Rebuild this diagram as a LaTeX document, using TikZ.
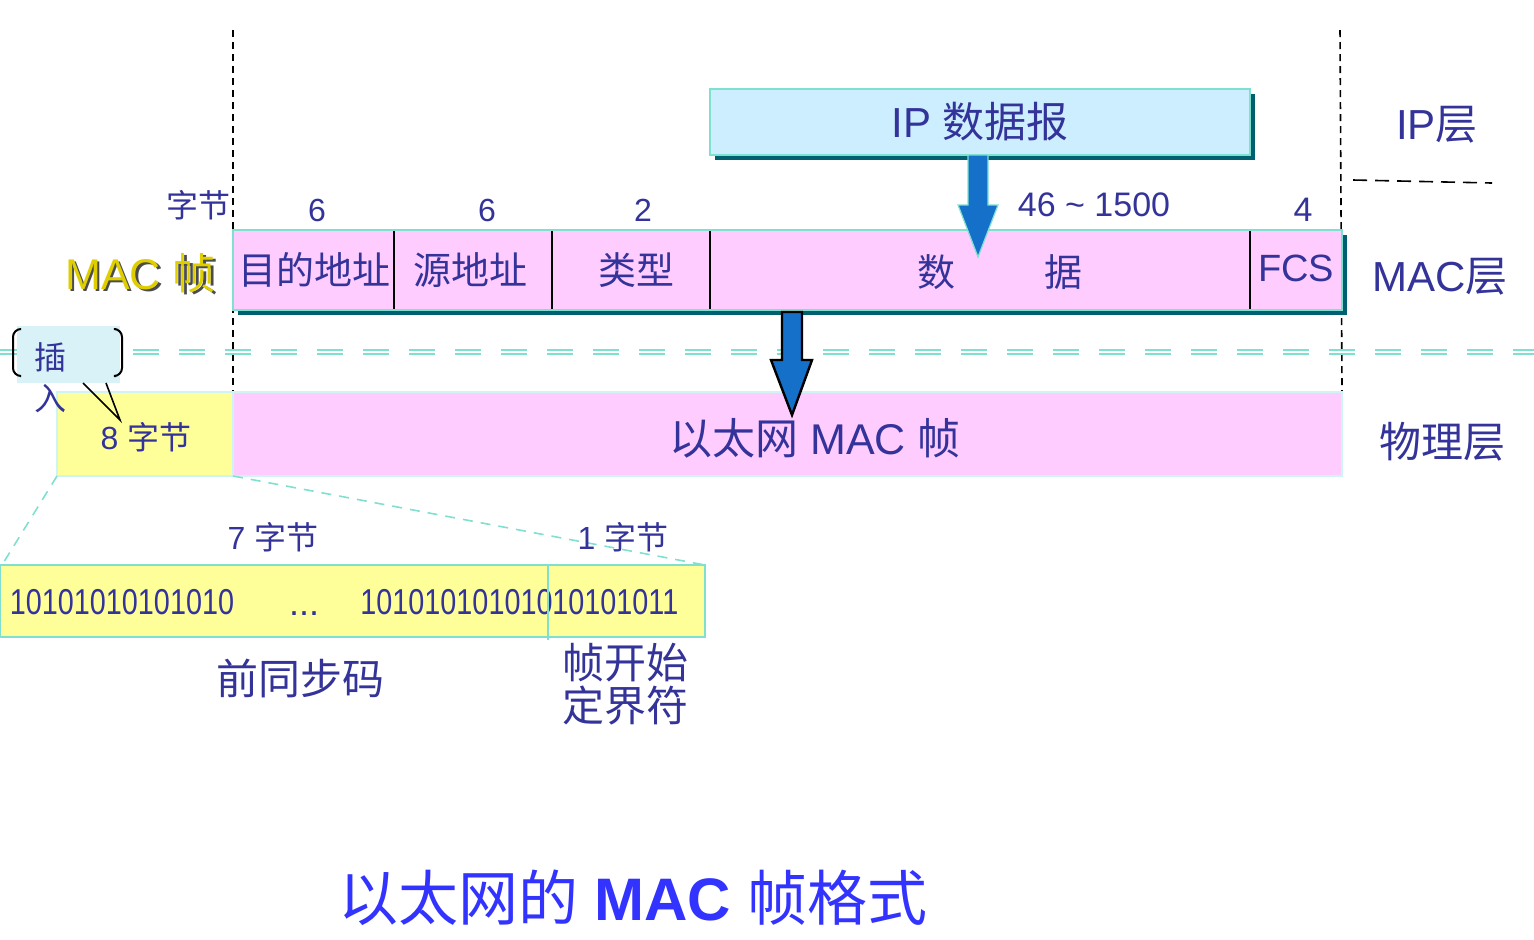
\documentclass[tikz,border=0pt]{standalone}
\usepackage{fontspec}
\setmainfont{Liberation Sans}
\newfontfamily\cjk{Noto Sans CJK SC}
\newfontfamily\narrowdigits[FakeStretch=0.8]{Liberation Sans}
\usetikzlibrary{shadows}
\definecolor{txtblue}{HTML}{333399}
\definecolor{titleblue}{HTML}{3333FF}
\definecolor{aqua}{HTML}{80E0D0}
\definecolor{paleaqua}{HTML}{D0F3F3}
\definecolor{ipfill}{HTML}{CCEEFF}
\definecolor{pinkfill}{HTML}{FFCCFF}
\definecolor{yellowfill}{HTML}{FFFF99}
\definecolor{shadowteal}{HTML}{006070}
\definecolor{arrowblue}{HTML}{1570C9}
\definecolor{calloutfill}{HTML}{D9F2F7}
\definecolor{macyellow}{HTML}{E0CF00}
\newcommand{\fs}[1]{\fontsize{#1}{#1}\selectfont}
\tikzset{
  lbl/.style={text=txtblue, inner sep=0pt},
  layerbox/.style={draw=aqua, line width=1pt, inner sep=0pt, outer sep=0pt},
  shadowed/.style={drop shadow={shadow xshift=2.5pt, shadow yshift=-2.5pt,
      fill=shadowteal, opacity=1}},
  physbox/.style={draw=paleaqua, line width=1pt, inner sep=0pt, outer sep=0pt},
  vline/.style={black, line width=0.8pt, dash pattern=on 3.5pt off 2.5pt},
  sepline/.style={aqua, line width=1pt, dash pattern=on 13pt off 10pt},
  zoomline/.style={aqua, line width=0.8pt, dash pattern=on 5pt off 4pt},
  blockarrow/.style={fill=arrowblue, line join=miter}
}
\begin{document}
\begin{tikzpicture}[x=0.5pt,y=-0.5pt]
  \useasboundingbox (0,0) rectangle (1534,939);
  % layer borders
  \draw[vline] (233,30) -- (233,392);
  \draw[vline] (1340,30) -- (1342,392);
  \draw[black, line width=0.8pt, dash pattern=on 7pt off 4pt] (1353,180) -- (1492,183);
  \draw[sepline] (-5,349.5) -- (1534,349.5);
  \draw[sepline] (-5,353.5) -- (1534,353.5);

  % IP layer
  \node[layerbox, shadowed, fill=ipfill, minimum width=270pt, minimum height=33pt,
    lbl, font=\fs{21}] (ip) at (980,122) {IP {\cjk 数据报}};

  % MAC layer
  \node[layerbox, shadowed, fill=pinkfill, minimum width=554.5pt,
    minimum height=40pt] (macframe) at (787.5,270) {};
  \foreach \x in {394,552,710,1250}
    \draw[black, line width=0.8pt] (\x,231) -- (\x,309);
  \node[lbl, font=\fs{16}\cjk, anchor=east] (unit) at (231,205) {字节};
  \node[lbl, font=\fs{16}] (len1) at (317,210) {6};
  \node[lbl, font=\fs{16}] (len2) at (487,210) {6};
  \node[lbl, font=\fs{16}] (len3) at (643,210) {2};
  \node[lbl, font=\fs{17}] (len4) at (1094,205) {46 \textasciitilde{} 1500};
  \node[lbl, font=\fs{17}] (len5) at (1303,210) {4};
  \node[lbl, font=\fs{19}\cjk] (dst) at (314,270) {目的地址};
  \node[lbl, font=\fs{19}\cjk] (src) at (470,270) {源地址};
  \node[lbl, font=\fs{19}\cjk] (typ) at (636,270) {类型};
  \node[lbl, font=\fs{19}\cjk] (data1) at (936,272) {数};
  \node[lbl, font=\fs{19}\cjk] (data2) at (1063,272) {据};
  \node[lbl, font=\fs{19}] (fcs) at (1296,268) {FCS};
  \node[inner sep=0pt, text=black!70, font=\fs{21.5}] (macshadow) at (143,275.5)
    {MAC {\cjk 帧}};
  \node[inner sep=0pt, text=macyellow, font=\fs{21.5}] (maclabel) at (140.5,273)
    {MAC {\cjk 帧}};
  \draw[blockarrow, draw=aqua, line width=0.6pt] (968,155) -- ++(20,0) -- ++(0,50)
    -- ++(10,0) -- (978,257) -- ++(-20,-52) -- ++(10,0) -- cycle;

  % physical layer
  \node[physbox, fill=yellowfill, minimum width=88pt, minimum height=42pt,
    lbl, font=\fs{16}] (pre8) at (145,434) {};
  \node[lbl, font=\fs{16}] (pre8txt) at (146,437) {8 {\cjk 字节}};
  \node[physbox, fill=pinkfill, minimum width=554.5pt, minimum height=42pt]
    (ethframe) at (787.5,434) {};
  \node[lbl, font=\fs{21.5}] (ethtxt) at (815,438) {{\cjk 以太网} MAC {\cjk 帧}};
  \draw[blockarrow, draw=black, line width=1.2pt] (782,312) -- ++(20,0) -- ++(0,48)
    -- ++(10,0) -- (792,415) -- ++(-21,-55) -- ++(11,0) -- cycle;

  % callout
  \fill[calloutfill] (17,326) rectangle (120,383);
  \draw[line width=1pt, rounded corners=4pt] (20,329) -- (13,329) -- (13,376) -- (20,376);
  \draw[line width=1pt, rounded corners=4pt] (116,329) -- (122,329) -- (122,376) -- (116,376);
  \draw[line width=0.8pt] (83,383) -- (120,420) -- (106,383);
  \node[lbl, font=\fs{16}\cjk] (ins1) at (50,357) {插};
  \node[lbl, font=\fs{16}\cjk] (ins2) at (50,399) {入};

  % preamble detail
  \draw[zoomline] (pre8.south west) -- (2,565);
  \draw[zoomline] (pre8.south east) -- (705,565);
  \node[layerbox, fill=yellowfill, minimum width=352.5pt, minimum height=36pt]
    (preamble) at (352.5,601) {};
  \node[lbl, font=\fs{18}\narrowdigits] (bits1) at (122,602) {10101010101010};
  \node[lbl, font=\fs{18}, anchor=base] (dots) at (304,615) {...};
  \node[lbl, font=\fs{18}\narrowdigits, anchor=east] (bits2) at (553,602) {101010101010};
  \node[lbl, font=\fs{18}\narrowdigits, anchor=west] (bits3) at (552,602) {10101011};
  \draw[aqua, line width=1pt] (548,565) -- (548,640);
  \node[lbl, font=\fs{16}] (len7) at (273,537) {7 {\cjk 字节}};
  \node[lbl, font=\fs{16}] (len1b) at (623,537) {1 {\cjk 字节}};
  \node[lbl, font=\fs{21}\cjk] (sync) at (300,678) {前同步码};
  \node[lbl, font=\fontsize{21}{21.5}\selectfont\cjk, align=center] (sfd) at (625,684)
    {帧开始\\定界符};

  % layer names
  \node[lbl, font=\fs{21}] (iplayer) at (1437,125) {IP{\cjk 层}};
  \node[lbl, font=\fs{21}] (maclayer) at (1440,277) {MAC{\cjk 层}};
  \node[lbl, font=\fs{21}\cjk] (phylayer) at (1442,442) {物理层};

  \node[inner sep=0pt, text=titleblue, font=\fs{30}] (title) at (633,898)
    {{\cjk 以太网的} {\bfseries MAC} {\cjk 帧格式}};
\end{tikzpicture}
\end{document}
